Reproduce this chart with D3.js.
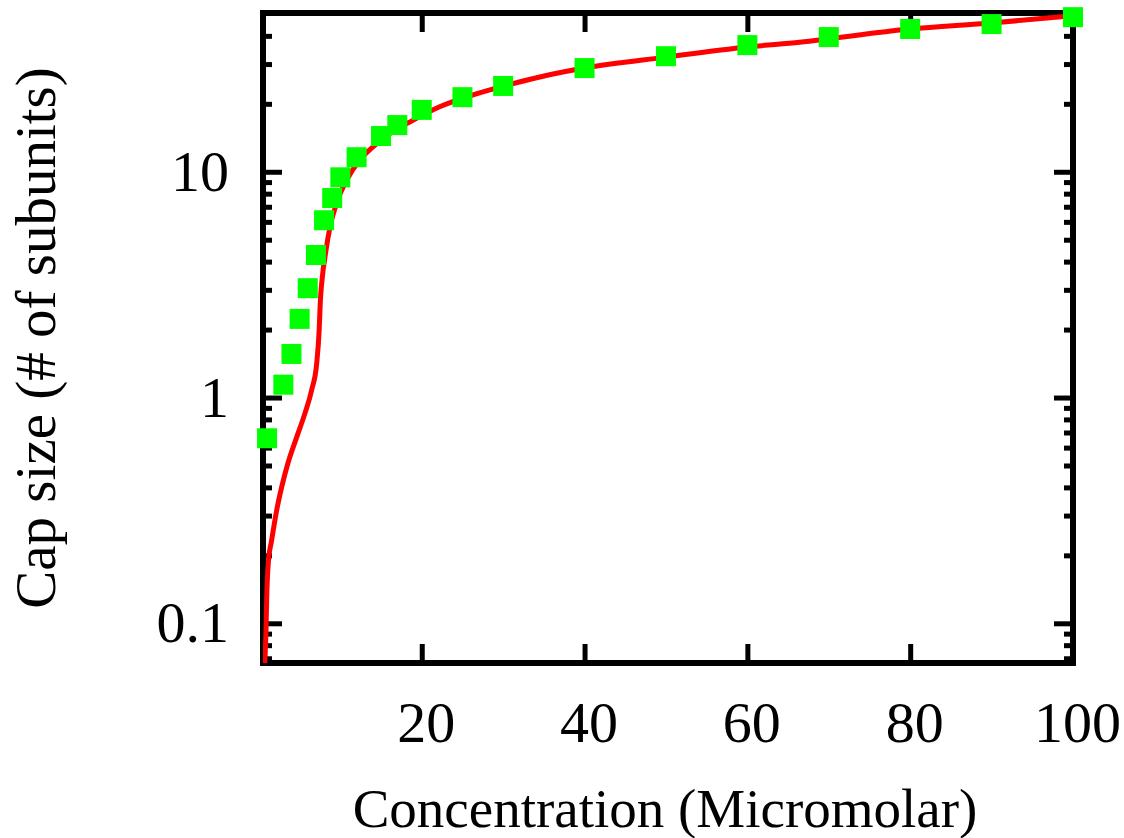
<!DOCTYPE html>
<html>
<head>
<meta charset="utf-8">
<script src="https://cdn.jsdelivr.net/npm/d3@7"></script>
<style>
  html, body { margin: 0; padding: 0; background: #fff; }
  svg { display: block; }
  text { font-family: "Liberation Serif", "Times New Roman", Times, serif; fill: #000; }
</style>
</head>
<body>
<svg id="chart" width="1124" height="838"></svg>
<script>
// Measured cap size (green squares)
const concentrations = [1, 3, 4, 5, 6, 7, 8, 9, 10, 12, 15, 17, 20, 25, 30, 40, 50, 60, 70, 80, 90, 100];
const capSizes = [0.66, 1.14, 1.56, 2.23, 3.05, 4.28, 6.1, 7.65, 9.45, 11.6, 14.4, 16.1, 18.8, 21.4, 24.0, 28.8, 32.5, 36.4, 39.5, 42.9, 45.1, 48.4];

// Model curve (red line)
const modelConc = [0.69, 0.75, 0.87, 0.96, 1.15, 1.57, 2.19, 2.8, 3.57, 4.64, 5.66, 6.48, 7.1, 7.4, 7.55, 7.75, 8.24, 8.73, 9.55, 10.78, 12.41, 14.0, 16.1, 18.9, 22.2, 26.3, 30.5, 34.5, 40, 50, 60, 66.4, 80, 90, 99.6];
const modelCap = [0.064, 0.0708, 0.0933, 0.1306, 0.185, 0.234, 0.318, 0.402, 0.513, 0.668, 0.853, 1.08, 1.42, 1.99, 2.7, 3.31, 4.5, 5.69, 7.27, 9.19, 11.3, 12.9, 14.8, 16.9, 19.4, 21.9, 24.2, 26.3, 28.8, 32.2, 35.7, 37.5, 42.9, 45.6, 49.0];

// Axis ticks
const xTicks = [20, 40, 60, 80, 100];
const yMajorTicks = [0.1, 1, 10];
const yMinorTicks = [0.07, 0.08, 0.09, 0.2, 0.3, 0.4, 0.5, 0.6, 0.7, 0.8, 0.9, 2, 3, 4, 5, 6, 7, 8, 9, 20, 30, 40];
const yTickLabels = ["0.1", "1", "10"];

const xTitle = "Concentration (Micromolar)";
const yTitle = "Cap size (# of subunits)";

const plotLeft = 263, plotRight = 1073, plotTop = 13, plotBottom = 663;
const svg = d3.select("#chart");

const x = d3.scaleLinear().domain([0.5, 100]).range([plotLeft, plotRight]);
const y = d3.scaleLog().domain([0.0667, 50.5]).range([plotBottom, plotTop]);

const tickFont = 58, xTitleFont = 55, yTitleFont = 57;
const majorLen = 19, minorLen = 9;

svg.append("defs").append("clipPath").attr("id", "plotClip")
  .append("rect").attr("x", plotLeft).attr("y", plotTop)
  .attr("width", plotRight - plotLeft).attr("height", plotBottom - plotTop);

function styleAxis(g) {
  g.select(".domain").remove();
  g.selectAll(".tick line").attr("stroke", "#000").attr("stroke-width", 5);
  g.selectAll(".tick text").attr("font-size", tickFont).attr("font-family", '"Liberation Serif", "Times New Roman", serif');
}

// bottom x axis with labels
svg.append("g").attr("transform", `translate(0,${plotBottom})`)
  .call(d3.axisBottom(x).tickValues(xTicks).tickFormat(d3.format("d"))
    .tickSizeInner(-majorLen).tickSizeOuter(0).tickPadding(38))
  .call(styleAxis)
  .call(g => g.selectAll(".tick text").attr("dx", 4));

// top x axis mirror ticks
svg.append("g").attr("transform", `translate(0,${plotTop})`)
  .call(d3.axisTop(x).tickValues(xTicks).tickFormat("")
    .tickSizeInner(-majorLen).tickSizeOuter(0))
  .call(styleAxis);

// left y axis, major with labels
svg.append("g").attr("transform", `translate(${plotLeft},0)`)
  .call(d3.axisLeft(y).tickValues(yMajorTicks).tickFormat((d, i) => yTickLabels[i])
    .tickSizeInner(-majorLen).tickSizeOuter(0).tickPadding(34))
  .call(styleAxis);

// left y axis minor ticks
svg.append("g").attr("transform", `translate(${plotLeft},0)`)
  .call(d3.axisLeft(y).tickValues(yMinorTicks).tickFormat("")
    .tickSizeInner(-minorLen).tickSizeOuter(0))
  .call(styleAxis);

// right y axis mirror ticks
svg.append("g").attr("transform", `translate(${plotRight},0)`)
  .call(d3.axisRight(y).tickValues(yMajorTicks).tickFormat("")
    .tickSizeInner(-majorLen).tickSizeOuter(0))
  .call(styleAxis);
svg.append("g").attr("transform", `translate(${plotRight},0)`)
  .call(d3.axisRight(y).tickValues(yMinorTicks).tickFormat("")
    .tickSizeInner(-minorLen).tickSizeOuter(0))
  .call(styleAxis);

// frame
svg.append("rect")
  .attr("x", plotLeft).attr("y", plotTop)
  .attr("width", plotRight - plotLeft).attr("height", plotBottom - plotTop)
  .attr("fill", "none").attr("stroke", "#000").attr("stroke-width", 6);

// model curve
const modelData = modelConc.map((c, i) => [c, modelCap[i]]);
const line = d3.line()
  .x(d => x(d[0])).y(d => y(d[1]))
  .curve(d3.curveMonotoneX);
svg.append("path")
  .datum(modelData)
  .attr("clip-path", "url(#plotClip)")
  .attr("d", line)
  .attr("fill", "none")
  .attr("stroke", "#ff0000")
  .attr("stroke-width", 5)
  .attr("stroke-linejoin", "round");

// measured points
const sq = 20;
svg.append("g").selectAll("rect")
  .data(concentrations.map((c, i) => [c, capSizes[i]]))
  .join("rect")
  .attr("x", d => x(d[0]) - sq / 2)
  .attr("y", d => y(d[1]) - sq / 2)
  .attr("width", sq).attr("height", sq)
  .attr("fill", "#00ff00");

// axis titles
svg.append("text")
  .attr("x", 665).attr("y", 827)
  .attr("text-anchor", "middle")
  .attr("font-size", xTitleFont)
  .text(xTitle);

svg.append("text")
  .attr("transform", `translate(55,${(plotTop + plotBottom) / 2}) rotate(-90)`)
  .attr("text-anchor", "middle")
  .attr("font-size", yTitleFont)
  .text(yTitle);
</script>
</body>
</html>
